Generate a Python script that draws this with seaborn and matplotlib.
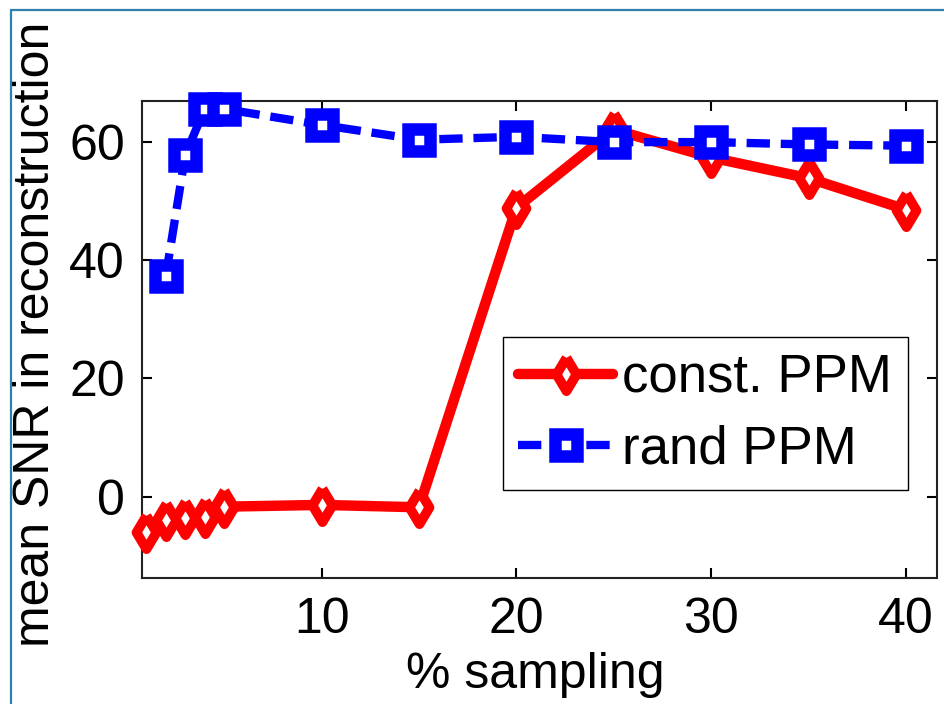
import matplotlib
matplotlib.use("Agg")
import matplotlib.pyplot as plt
from matplotlib.lines import Line2D
import seaborn as sns
import pandas as pd

# ---- data ----
const_x = [1, 2, 3, 4, 5, 10, 15, 20, 25, 30, 35, 40]
const_y = [-6.0, -3.9, -3.6, -3.4, -1.7, -1.4, -1.8, 48.8, 62.0, 57.3, 53.8, 48.5]
rand_x = [2, 3, 4, 5, 10, 15, 20, 25, 30, 35, 40]
rand_y = [37.2, 57.7, 65.5, 65.5, 62.8, 60.3, 60.8, 59.9, 59.9, 59.5, 59.3]
labels = ["const. PPM", "rand PPM"]
xticks = [10, 20, 30, 40]
yticks = [0, 20, 40, 60]

sns.set_style("ticks")
plt.rcParams["font.family"] = ["Liberation Sans", "DejaVu Sans"]
for k in ["text.color", "axes.labelcolor", "xtick.color", "ytick.color", "axes.edgecolor"]:
    plt.rcParams[k] = "black"

fig = plt.figure(figsize=(9.44, 7.04), dpi=100)
ax = fig.add_axes([0.150, 0.1794, 0.8423, 0.6776])

df_c = pd.DataFrame({"x": const_x, "y": const_y})
df_r = pd.DataFrame({"x": rand_x, "y": rand_y})

diamond = [(0, 1), (0.6, 0), (0, -1), (-0.6, 0), (0, 1)]

sns.lineplot(data=df_c, x="x", y="y", ax=ax, color="#ff0000", lw=7.5,
             marker=diamond, markersize=24, markerfacecolor="white",
             markeredgecolor="#ff0000", markeredgewidth=7,
             label=labels[0], clip_on=False, zorder=3)
sns.lineplot(data=df_r, x="x", y="y", ax=ax, color="#0000ff", lw=6.0,
             marker="s", markersize=16, markerfacecolor="white",
             markeredgecolor="#0000ff", markeredgewidth=9,
             label=labels[1], clip_on=False, zorder=4)
lines = ax.get_lines()
lines[1].set_dashes((2.8, 1.3))
lines[1].set_dash_capstyle("butt")

ax.set_xlim(0.76, 41.58)
ax.set_ylim(-13.7, 66.9)
ax.set_xticks(xticks)
ax.set_yticks(yticks)
ax.tick_params(direction="in", length=7, width=1.5, labelsize=36,
               top=True, right=True, color="black", labelcolor="black")
ax.tick_params(axis="x", pad=14)
ax.tick_params(axis="y", pad=12)
for s in ax.spines.values():
    s.set_visible(True)
    s.set_linewidth(1.5)
    s.set_color("#222222")

ax.set_xlabel("% sampling", fontsize=36, color="black")
ax.set_ylabel("mean SNR in reconstruction", fontsize=36, color="black")
ax.xaxis.set_label_coords(0.495, -0.155)
ax.yaxis.set_label_coords(-0.104, 0.51)

leg = ax.legend(loc="lower right", bbox_to_anchor=(0.964, 0.184),
                borderaxespad=0, fontsize=38, handlelength=1.8,
                handletextpad=0.17, labelspacing=0.4, borderpad=0.3,
                numpoints=1, fancybox=False, frameon=True)
leg.get_frame().set_edgecolor("black")
leg.get_frame().set_linewidth(1.0)
leg.get_frame().set_alpha(1)
for t in leg.get_texts():
    t.set_color("black")

# outer frame border of the picture
bc = "#2f7fb0"
fig.add_artist(Line2D([11 / 944, 11 / 944], [0, 1 - 10 / 704], transform=fig.transFigure, color=bc, lw=1.6))
fig.add_artist(Line2D([11 / 944, 1], [1 - 10 / 704, 1 - 10 / 704], transform=fig.transFigure, color=bc, lw=1.6))

fig.savefig("out.png", dpi=100)
